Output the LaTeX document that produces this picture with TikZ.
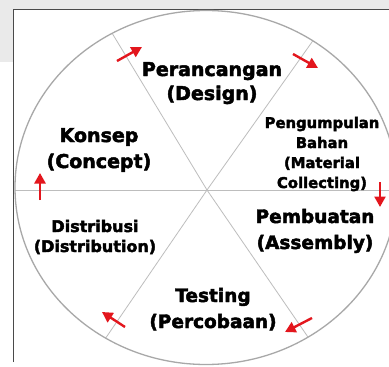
\documentclass[tikz,border=0pt]{standalone}
\usepackage{fontspec}
\setmainfont{DejaVu Sans}
\newfontfamily\heavyfont[FakeBold=2.5]{DejaVu Sans Bold}
\usetikzlibrary{arrows.meta}
\definecolor{bggray}{HTML}{EAEAEA}
\definecolor{frame}{HTML}{4A4A4A}
\definecolor{ring}{HTML}{A8A8A8}
\definecolor{spoke}{HTML}{BDBDBD}
\definecolor{arrred}{HTML}{E3161D}
\tikzset{
  lbl/.style={align=center, inner sep=0pt, anchor=base, text=black},
  flowarrow/.style={draw=arrred, line width=2.4pt, -{Triangle[length=10.5pt,width=11pt]}},
}
\begin{document}
\begin{tikzpicture}[x=1pt,y=-1pt]
\useasboundingbox (0,0) rectangle (389,367);
% background
\fill[white] (0,0) rectangle (389,367);
\fill[bggray] (0,0) rectangle (389,9);
\fill[bggray] (0,0) rectangle (13,62);
\fill[white] (13.5,9.5) rectangle (389,367);
\draw[frame, line width=1pt] (13.5,362) -- (13.5,9.5) -- (389,9.5);
% wheel
\begin{scope}
\clip (206,187.5) ellipse [x radius=191, y radius=177];
\draw[spoke, line width=0.8pt] (207,190) -- ++(-95*1.5,-157*1.5);
\draw[spoke, line width=0.8pt] (207,190) -- ++(105*1.5,-148*1.5);
\draw[spoke, line width=0.8pt] (207,190) -- ++(-104*1.5,152*1.5);
\draw[spoke, line width=0.8pt] (207,190) -- ++(103*1.5,150*1.5);
\draw[spoke, line width=0.8pt] (0,190) -- (400,190);
\end{scope}
\draw[ring, line width=1.3pt] (206,187.5) ellipse [x radius=191, y radius=177];
% labels (anchor base = baseline of last line)
\node[lbl, font=\heavyfont\fontsize{19}{24}\selectfont] (design) at (212,100) {Perancangan\\(Design)};
\node[lbl, font=\heavyfont\fontsize{19}{26}\selectfont] (concept) at (99,168) {Konsep\\(Concept)};
\node[lbl, font=\heavyfont\fontsize{14.8}{20}\selectfont] (material) at (322,188) {Pengumpulan\\Bahan\\(Material\\Collecting)};
\node[lbl, font=\heavyfont\fontsize{18.5}{26}\selectfont] (assembly) at (315,249) {Pembuatan\\(Assembly)};
\node[lbl, font=\heavyfont\fontsize{16}{20}\selectfont] (distribution) at (95,252) {Distribusi\\(Distribution)};
\node[lbl, font=\heavyfont\fontsize{18.5}{26}\selectfont] (testing) at (213,328) {Testing\\(Percobaan)};
% arrows
\coordinate (a1s) at (117,61); \coordinate (a1e) at (142,47);
\coordinate (a2s) at (293,54); \coordinate (a2e) at (318,68);
\coordinate (a3s) at (380,182); \coordinate (a3e) at (380,207);
\coordinate (a4s) at (312,318); \coordinate (a4e) at (285,332);
\coordinate (a5s) at (125,327); \coordinate (a5e) at (102,312);
\coordinate (a6s) at (40,200); \coordinate (a6e) at (40,173);
\draw[flowarrow] (a1s) -- (a1e);
\draw[flowarrow] (a2s) -- (a2e);
\draw[flowarrow] (a3s) -- (a3e);
\draw[flowarrow] (a4s) -- (a4e);
\draw[flowarrow] (a5s) -- (a5e);
\draw[flowarrow] (a6s) -- (a6e);
\end{tikzpicture}
\end{document}
